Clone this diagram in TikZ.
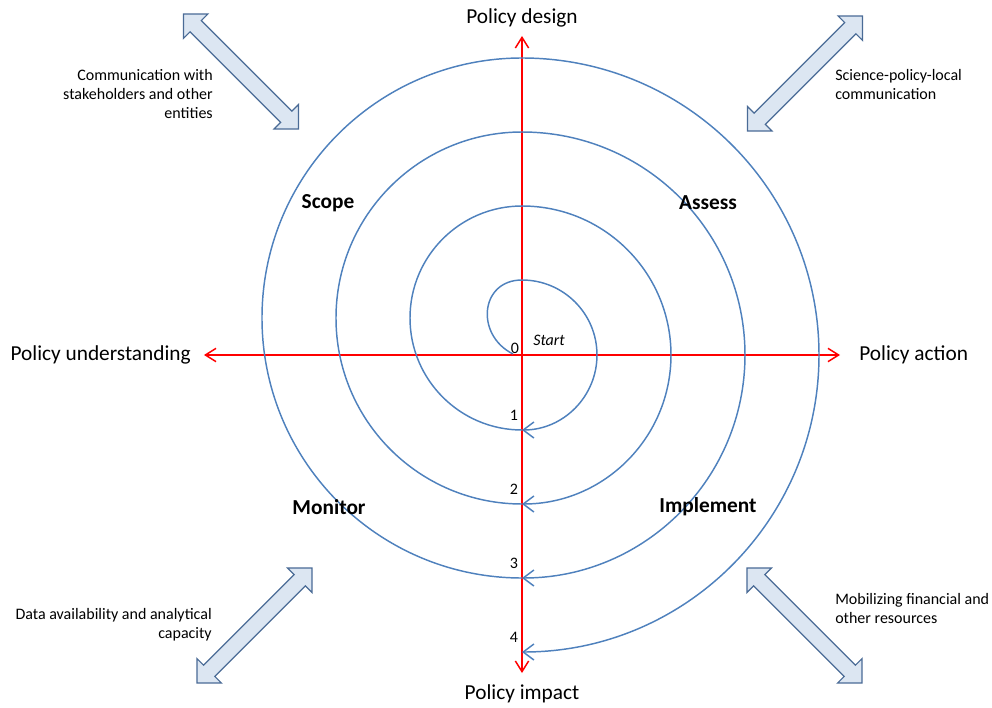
\documentclass[tikz,border=0pt]{standalone}
\usepackage{fontspec}
\setmainfont{Carlito}
\usepackage{xcolor}
\usetikzlibrary{arrows.meta,shapes.arrows}
\definecolor{spiral_blue}{HTML}{4F81BD}
\definecolor{axis_red}{HTML}{FF0000}
\definecolor{block_fill}{HTML}{DCE6F2}
\definecolor{block_edge}{HTML}{4A6B96}

\begin{document}
\begin{tikzpicture}[x=0.75pt, y=0.75pt,
    spiral/.style={line width=1.1pt, spiral_blue},
    ringarrow/.style={spiral, -{Straight Barb[length=8pt, width=12pt]}},
    redaxis/.style={line width=1.1pt, axis_red, {Straight Barb[length=8pt, width=10pt]}-{Straight Barb[length=8pt, width=10pt]}},
    phase/.style={font=\fontsize{16}{19}\selectfont, inner sep=0pt},
    stage/.style={font=\fontsize{16}{19}\selectfont\bfseries},
    note/.style={font=\fontsize{12}{14.5}\selectfont, inner sep=0pt},
    blockarrow/.style={double arrow, draw=block_edge, fill=block_fill, line width=0.9pt,
      minimum height=122pt, inner xsep=0pt, inner ysep=5.5pt, double arrow head extend=7pt}]
    \useasboundingbox (-522,-352) rectangle (470,355);

    % Draw the red axes
    \coordinate (top) at (0,319);
    \coordinate (bottom) at (0,-318);
    \coordinate (left) at (-318,0);
    \coordinate (right) at (318,0);
    \draw[redaxis] (bottom) -- (top);
    \draw[redaxis] (left) -- (right);

    % Draw the spiral - inner hook, then half turns
    \draw[spiral] (-9,1) .. controls (-47,20) and (-42,75) .. (0,75);
    \foreach \r [count=\i] in {75,149,223,297} {
      \draw[ringarrow] (0,\r) arc (90:-90:\r);
      \node[font=\fontsize{12}{14}\selectfont] (num\i) at (-8,{15-\r}) {\i};
    }
    \foreach \R in {112,186,260}
      \draw[spiral] (0,{37-\R}) arc (270:90:\R);
    \node[font=\fontsize{12}{14}\selectfont] (num0) at (-7,7) {0};
    \node[font=\fontsize{12}{14}\selectfont\itshape] (start) at (27,15) {Start};

    % Label the axes
    \node[phase] (design) at (0,337) {Policy design};
    \node[phase] (impact) at (0,-339) {Policy impact};
    \node[phase, anchor=east] (understanding) at (-331,0) {Policy understanding};
    \node[phase, anchor=west] (action) at (337,0) {Policy action};

    % Label the four stages
    \node[stage] (scope) at (-194,152) {Scope};
    \node[stage] (assess) at (186,152) {Assess};
    \node[stage] (monitor) at (-193,-152) {Monitor};
    \node[stage] (implement) at (186,-152) {Implement};

    % Draw block arrows in the corners with their notes
    \node[blockarrow, rotate=-45] (arrowTL) at (-281,283.5) {};
    \node[blockarrow, rotate=45] (arrowTR) at (283,281.5) {};
    \node[blockarrow, rotate=45] (arrowBL) at (-267.5,-270.5) {};
    \node[blockarrow, rotate=-45] (arrowBR) at (282.5,-270.5) {};
    \node[note, anchor=east, align=right] (noteTL) at (-309,261) {Communication with\\stakeholders and other\\entities};
    \node[note, anchor=west, align=left] (noteTR) at (313,270.5) {Science-policy-local\\communication};
    \node[note, anchor=east, align=right] (noteBL) at (-310,-269.5) {Data availability and analytical\\capacity};
    \node[note, anchor=west, align=left] (noteBR) at (313,-253.5) {Mobilizing financial and\\other resources};
\end{tikzpicture}
\end{document}
